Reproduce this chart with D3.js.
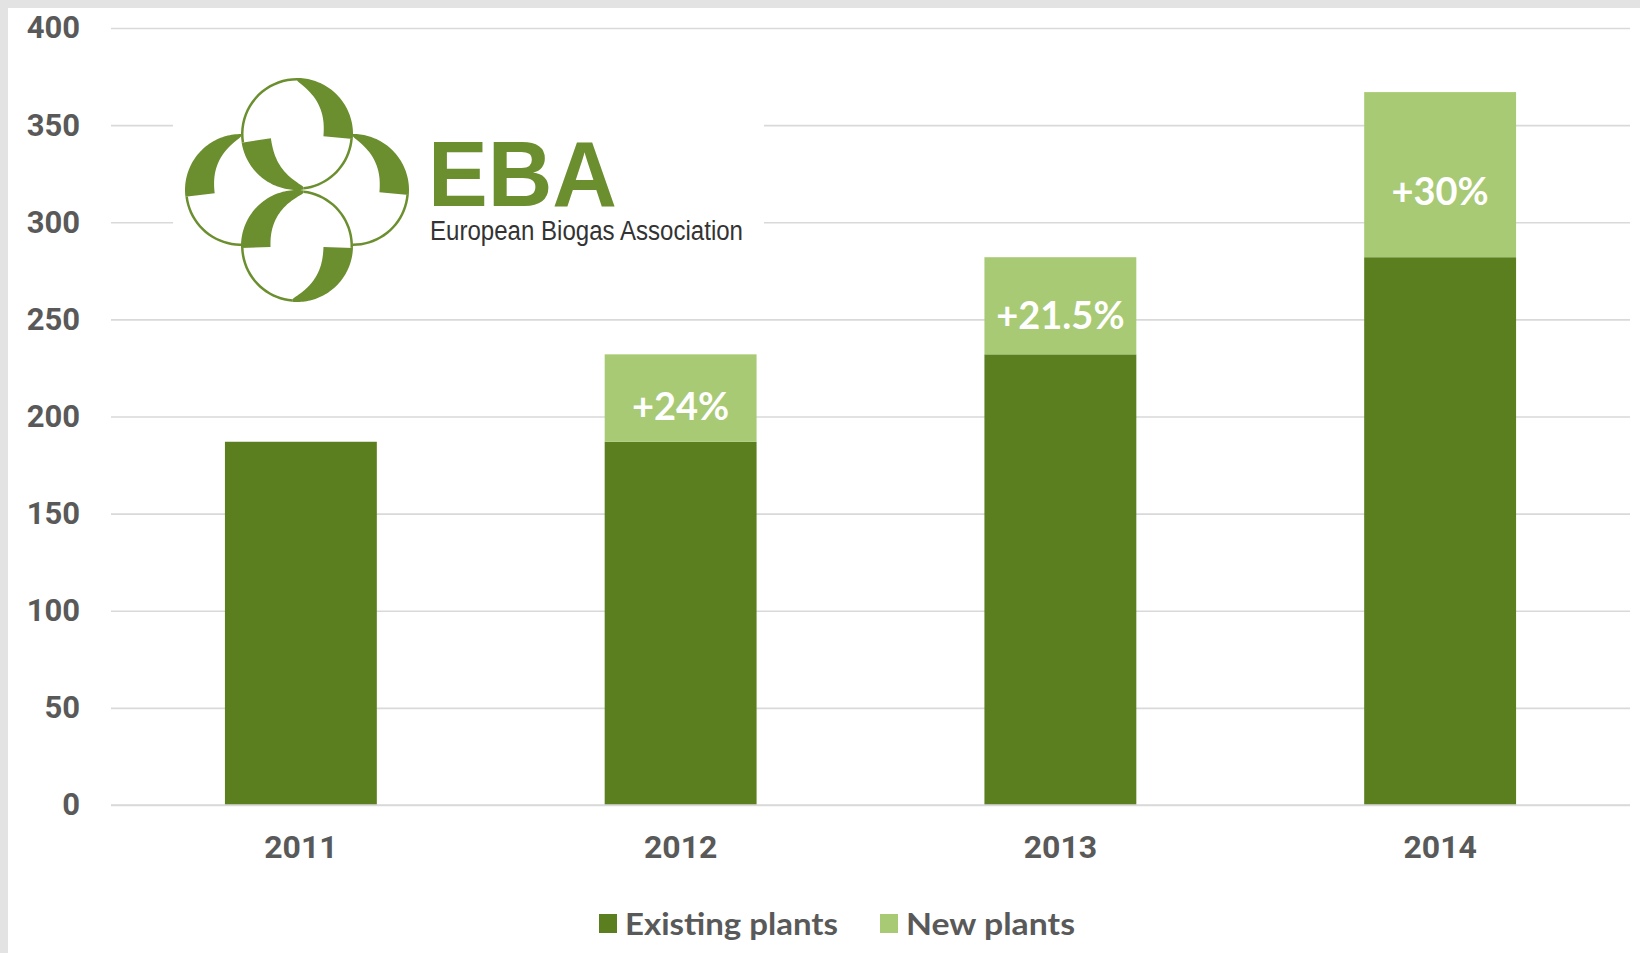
<!DOCTYPE html>
<html>
<head>
<meta charset="utf-8">
<script src="https://cdn.jsdelivr.net/npm/d3@7"></script>
<style>
  html, body { margin: 0; padding: 0; background: #e3e3e3; }
  svg { display: block; }
</style>
</head>
<body>
<svg id="chart" width="1640" height="953"></svg>
<script>
// ---- Data ----
const years = ["2011", "2012", "2013", "2014"];
const existingPlants = [187, 187, 232, 282];
const newPlants = [0, 45, 50, 85];
const growthLabels = ["", "+24%", "+21.5%", "+30%"];
const yTicks = [0, 50, 100, 150, 200, 250, 300, 350, 400];
const seriesNames = ["Existing plants", "New plants"];
const seriesColors = ["#5b7f1f", "#a9ca74"];

const W = 1640, H = 953;
const svg = d3.select("#chart");

// page frame
svg.append("rect").attr("x", 0).attr("y", 0).attr("width", W).attr("height", H).attr("fill", "#e3e3e3");
svg.append("rect").attr("x", 8).attr("y", 8).attr("width", W - 8).attr("height", H - 8).attr("fill", "#ffffff");

const plot = { left: 111, right: 1630, top: 28, bottom: 805 };

const x = d3.scaleBand().domain(years).range([plot.left, plot.right])
  .paddingInner(0.6).paddingOuter(0.3);
const y = d3.scaleLinear().domain([0, 400]).range([plot.bottom, plot.top]);

// gridlines
const yAxis = d3.axisLeft(y).tickValues(yTicks).tickSize(-(plot.right - plot.left)).tickPadding(31);
const gy = svg.append("g").attr("transform", `translate(${plot.left},0)`).call(yAxis);
gy.select(".domain").remove();
gy.selectAll(".tick line").attr("stroke", "#d9d9d9").attr("stroke-width", 1.6);
gy.selectAll(".tick text")
  .attr("fill", "#595959")
  .style("font-family", "Roboto, 'Liberation Sans', sans-serif")
  .style("font-weight", "700")
  .style("font-size", "31px");

// logo backdrop (hides gridlines behind logo)
svg.append("rect").attr("x", 173).attr("y", 60).attr("width", 591).attr("height", 252).attr("fill", "#ffffff");

// ---- Bars ----
const stackData = years.map((yr, i) => ({ year: yr, existing: existingPlants[i], added: newPlants[i], label: growthLabels[i] }));
const stack = d3.stack().keys(["existing", "added"]);
const layers = stack(stackData);

svg.append("g").selectAll("g")
  .data(layers)
  .join("g")
  .attr("fill", (d, i) => seriesColors[i])
  .selectAll("rect")
  .data(d => d.filter(p => p[1] > p[0]))
  .join("rect")
  .attr("x", d => x(d.data.year))
  .attr("width", x.bandwidth())
  .attr("y", d => y(d[1]))
  .attr("height", d => y(d[0]) - y(d[1]));

// growth labels
svg.append("g").selectAll("text")
  .data(stackData.filter(d => d.label))
  .join("text")
  .attr("x", d => x(d.year) + x.bandwidth() / 2)
  .attr("y", d => y(d.existing + d.added) + 0.6 * (y(d.existing) - y(d.existing + d.added)))
  .attr("dy", "0.36em")
  .attr("text-anchor", "middle")
  .attr("fill", "#ffffff")
  .style("font-family", "Lato, 'Noto Sans', sans-serif")
  .style("font-weight", "700")
  .style("font-size", "38px")
  .text(d => d.label);

// x axis
const xAxis = d3.axisBottom(x).tickSize(0).tickPadding(30);
const gx = svg.append("g").attr("transform", `translate(0,${plot.bottom})`).call(xAxis);
gx.select(".domain").attr("stroke", "#d9d9d9").attr("stroke-width", 1.6)
  .attr("d", `M${plot.left},0H${plot.right}`);
gx.selectAll(".tick text")
  .attr("fill", "#595959")
  .style("font-family", "Roboto, 'Liberation Sans', sans-serif")
  .style("font-weight", "700")
  .style("font-size", "32px");

// ---- Legend ----
const legendItems = [
  { name: seriesNames[0], color: seriesColors[0], x: 599, w: 213 },
  { name: seriesNames[1], color: seriesColors[1], x: 880, w: 169 }
];
const lg = svg.append("g");
legendItems.forEach(it => {
  lg.append("rect").attr("x", it.x).attr("y", 914).attr("width", 18).attr("height", 19).attr("fill", it.color);
  lg.append("text").attr("x", it.x + 26).attr("y", 935)
    .attr("fill", "#595959")
    .attr("textLength", it.w).attr("lengthAdjust", "spacingAndGlyphs")
    .style("font-family", "Lato, 'Noto Sans', sans-serif")
    .style("font-weight", "700")
    .style("font-size", "31px")
    .text(it.name);
});

// ---- EBA logo ----
const logoGreen = "#6b8f2f";
const logo = svg.append("g").attr("transform", "translate(297,190)");
const R = 56;
const ringCenters = { top: [0, -R], bottom: [0, R], left: [-R, 0], right: [R, 0] };
// crescents: [ring, thin-end angle, thick-end angle] (degrees, clockwise from 12 o'clock)
const crescents = [
  ["top", 0, 95], ["top", 173, 261],
  ["right", 0, 95],
  ["left", 360, 263],
  ["bottom", 185, 92], ["bottom", 367, 268]
];
const thinArcs = [
  ["top", 261, 360], ["top", 95, 173],
  ["bottom", 185, 268], ["bottom", 7, 92],
  ["left", 177, 263],
  ["right", 95, 180]
];
const rad = Math.PI / 180;
const area = d3.areaRadial().angle(d => d.a).innerRadius(d => d.ri).outerRadius(d => d.ro).curve(d3.curveLinear);
crescents.forEach(([ring, a0, a1]) => {
  const pts = d3.range(0, 1.0001, 0.02).map(t => ({
    a: (a0 + (a1 - a0) * t) * rad,
    ro: R,
    ri: R - (2.5 + 27 * Math.pow(Math.sin(t * Math.PI / 2), 0.8))
  }));
  logo.append("path").attr("transform", `translate(${ringCenters[ring]})`)
    .attr("d", area(pts)).attr("fill", logoGreen);
});
thinArcs.forEach(([ring, a0, a1]) => {
  const pts = d3.range(0, 1.0001, 0.05).map(t => ({ a: (a0 + (a1 - a0) * t) * rad, ro: R, ri: R - 2.5 }));
  logo.append("path").attr("transform", `translate(${ringCenters[ring]})`)
    .attr("d", area(pts)).attr("fill", logoGreen);
});

svg.append("text").attr("x", 428).attr("y", 206)
  .attr("fill", logoGreen)
  .attr("textLength", 189).attr("lengthAdjust", "spacingAndGlyphs")
  .style("font-family", "'Liberation Sans', Arial, sans-serif")
  .style("font-weight", "700").style("font-size", "93px")
  .text("EBA");
svg.append("text").attr("x", 430).attr("y", 240)
  .attr("fill", "#333333")
  .attr("textLength", 313).attr("lengthAdjust", "spacingAndGlyphs")
  .style("font-family", "'Liberation Sans Narrow', 'Liberation Sans', Arial, sans-serif")
  .style("font-size", "27px")
  .text("European Biogas Association");
</script>
</body>
</html>
